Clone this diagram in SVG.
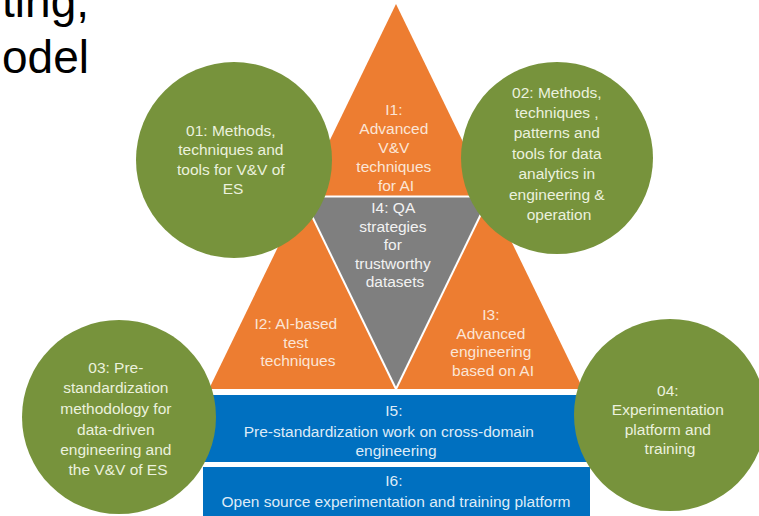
<svg xmlns="http://www.w3.org/2000/svg" width="759" height="516" viewBox="0 0 759 516">
  <style>
    .t { font-family: "Liberation Sans", Arial, sans-serif; font-size: 15.5px; text-anchor: middle; }
    .big { font-family: "Liberation Sans", Arial, sans-serif; font-size: 46px; fill: #000000; text-anchor: end; }
    .orange { fill: #ED7D31; }
    .gray { fill: #7F7F7F; }
    .green { fill: #77933C; }
    .blue { fill: #0070C0; }
    .to { fill: #FBE5D6; }
    .tg { fill: #EBF1DE; }
    .tgr { fill: #F2F2F2; }
    .tb { fill: #DEEBF7; }
    .sep { stroke: #FFFFFF; stroke-width: 2; fill: none; }
  </style>
  <rect width="759" height="516" fill="#FFFFFF"/>

  <g id="title">
    <text class="big" x="89" y="17">ting,</text>
    <text class="big" x="89" y="73">odel</text>
  </g>

  <g id="I1">
    <polygon class="orange" points="396,4 302.5,196.5 489.5,196.5"/>
    <text class="t to">
      <tspan x="396" y="115">I1:</tspan>
      <tspan x="396" y="134">Advanced</tspan>
      <tspan x="396" y="153">V&amp;V</tspan>
      <tspan x="396" y="172">techniques</tspan>
      <tspan x="396" y="191">for AI</tspan>
    </text>
  </g>

  <g id="I4">
    <polygon class="gray" points="302.5,196.5 489.5,196.5 396,389"/>
    <text class="t tgr">
      <tspan x="395" y="213">I4: QA</tspan>
      <tspan x="395" y="232">strategies</tspan>
      <tspan x="395" y="250">for</tspan>
      <tspan x="395" y="269">trustworthy</tspan>
      <tspan x="395" y="287">datasets</tspan>
    </text>
  </g>

  <g id="I2">
    <polygon class="orange" points="302.5,196.5 396,389 209,389"/>
    <text class="t to">
      <tspan x="298" y="329">I2: AI-based</tspan>
      <tspan x="298" y="348">test</tspan>
      <tspan x="298" y="366">techniques</tspan>
    </text>
  </g>

  <g id="I3">
    <polygon class="orange" points="489.5,196.5 583,389 396,389"/>
    <text class="t to">
      <tspan x="493" y="320">I3:</tspan>
      <tspan x="493" y="339">Advanced</tspan>
      <tspan x="493" y="357">engineering</tspan>
      <tspan x="493" y="376">based on AI</tspan>
    </text>
  </g>

  <g id="separators">
    <line class="sep" x1="302.5" y1="196.5" x2="489.5" y2="196.5"/>
    <line class="sep" x1="302.5" y1="196.5" x2="396" y2="389"/>
    <line class="sep" x1="489.5" y1="196.5" x2="396" y2="389"/>
  </g>

  <g id="I5">
    <rect class="blue" x="203" y="395" width="387" height="67"/>
    <text class="t tb">
      <tspan x="396" y="416">I5:</tspan>
      <tspan x="391" y="437">Pre-standardization work on cross-domain</tspan>
      <tspan x="396" y="456">engineering</tspan>
    </text>
  </g>

  <g id="I6">
    <rect class="blue" x="203" y="467" width="387" height="52"/>
    <text class="t tb">
      <tspan x="396" y="486">I6:</tspan>
      <tspan x="396" y="507">Open source experimentation and training platform</tspan>
    </text>
  </g>

  <g id="O1">
    <circle class="green" cx="234" cy="160" r="98"/>
    <text class="t tg">
      <tspan x="233" y="136">01: Methods,</tspan>
      <tspan x="233" y="155">techniques and</tspan>
      <tspan x="233" y="175">tools for V&amp;V of</tspan>
      <tspan x="233" y="194">ES</tspan>
    </text>
  </g>

  <g id="O2">
    <circle class="green" cx="557" cy="158" r="96"/>
    <text class="t tg">
      <tspan x="559" y="98">02: Methods,</tspan>
      <tspan x="559" y="118">techniques ,</tspan>
      <tspan x="559" y="138">patterns and</tspan>
      <tspan x="559" y="159">tools for data</tspan>
      <tspan x="559" y="179">analytics in</tspan>
      <tspan x="559" y="200">engineering &amp;</tspan>
      <tspan x="559" y="220">operation</tspan>
    </text>
  </g>

  <g id="O3">
    <circle class="green" cx="119" cy="417" r="97"/>
    <text class="t tg">
      <tspan x="118" y="373">03: Pre-</tspan>
      <tspan x="118" y="393">standardization</tspan>
      <tspan x="118" y="414">methodology for</tspan>
      <tspan x="118" y="435">data-driven</tspan>
      <tspan x="118" y="455">engineering and</tspan>
      <tspan x="118" y="475">the V&amp;V of ES</tspan>
    </text>
  </g>

  <g id="O4">
    <circle class="green" cx="670" cy="415" r="96"/>
    <text class="t tg">
      <tspan x="670" y="396">04:</tspan>
      <tspan x="670" y="415">Experimentation</tspan>
      <tspan x="670" y="435">platform and</tspan>
      <tspan x="670" y="454">training</tspan>
    </text>
  </g>
</svg>
